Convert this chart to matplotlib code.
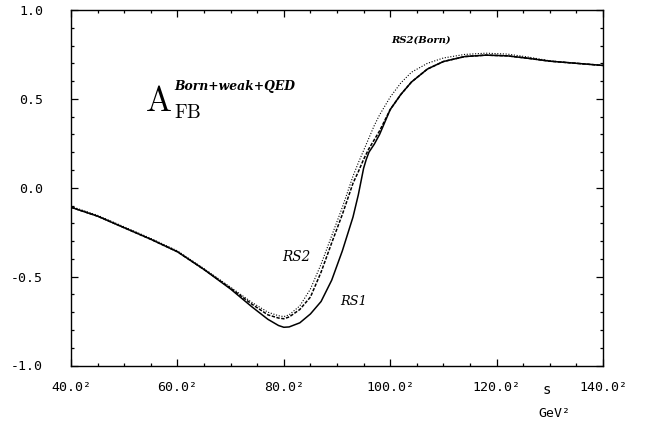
import numpy as np
import matplotlib
matplotlib.use("Agg")
import matplotlib.pyplot as plt
from matplotlib.ticker import MultipleLocator

plt.rcParams["mathtext.fontset"] = "cm"

# ---- donnees (energie en GeV, axe en s = E^2) ----
E_rs1 = [40, 45, 50, 55, 60, 65, 70, 74, 77, 79, 80, 81, 83, 85, 87, 89, 91, 93, 94,
         95, 95.5, 96, 97, 98, 99, 100, 102, 104, 107, 110, 114, 118, 122, 126, 130, 135, 140]
A_rs1 = [-0.11, -0.16, -0.225, -0.29, -0.36, -0.46, -0.57, -0.67, -0.74, -0.775, -0.785,
         -0.783, -0.76, -0.71, -0.64, -0.52, -0.355, -0.165, -0.04,
         0.11, 0.16, 0.20, 0.245, 0.30, 0.37, 0.44, 0.525, 0.595, 0.668, 0.71, 0.738,
         0.746, 0.742, 0.728, 0.712, 0.70, 0.688]

E_rs2 = [40, 45, 50, 55, 60, 65, 70, 74, 77, 79, 80, 81, 83, 85, 87, 89, 91, 93, 94,
         95, 96, 97, 98, 99, 100, 102, 104, 107, 110, 114, 118, 122, 126, 130, 135, 140]
A_rs2 = [-0.11, -0.16, -0.225, -0.29, -0.36, -0.46, -0.565, -0.655, -0.715, -0.733, -0.737,
         -0.727, -0.685, -0.615, -0.475, -0.31, -0.15, 0.025, 0.09,
         0.16, 0.22, 0.27, 0.32, 0.38, 0.44, 0.525, 0.595, 0.668, 0.71, 0.738,
         0.746, 0.742, 0.728, 0.712, 0.70, 0.688]

E_born = [40, 45, 50, 55, 60, 65, 70, 74, 77, 79, 80, 81, 83, 85, 87, 89, 91, 93, 94,
          95, 96, 97, 98, 100, 102, 104, 107, 110, 114, 118, 122, 126, 130, 135, 140]
A_born = [-0.105, -0.155, -0.22, -0.285, -0.355, -0.455, -0.56, -0.645, -0.70, -0.72, -0.725,
          -0.715, -0.665, -0.57, -0.43, -0.27, -0.11, 0.065, 0.14,
          0.21, 0.28, 0.35, 0.41, 0.51, 0.59, 0.65, 0.70, 0.73, 0.75,
          0.757, 0.752, 0.735, 0.714, 0.70, 0.688]

x_ticks = [40, 60, 80, 100, 120, 140]
x_labels = ["40.0²", "60.0²", "80.0²", "100.0²", "120.0²", "140.0²"]
y_ticks = [-1.0, -0.5, 0.0, 0.5, 1.0]
y_labels = ["-1.0", "-0.5", "0.0", "0.5", "1.0"]

fig = plt.figure(figsize=(6.48, 4.25), dpi=100)
ax = fig.add_axes([0.1096, 0.14, 0.821, 0.8365])

ax.plot(E_rs1, A_rs1, color="black", linewidth=1.1, linestyle="-")
ax.plot(E_rs2, A_rs2, color="black", linewidth=1.1, linestyle=(0, (2.2, 1.0)))
ax.plot(E_born, A_born, color="black", linewidth=0.8, linestyle=(0, (1.0, 1.5)))

ax.set_xlim(40, 140)
ax.set_ylim(-1.0, 1.0)

# graduations vers l'interieur sur les 4 cotes
ax.set_xticks(x_ticks)
ax.set_xticklabels(x_labels, family="DejaVu Sans Mono", fontsize=9.5)
ax.set_yticks(y_ticks)
ax.set_yticklabels(y_labels, family="DejaVu Sans Mono", fontsize=9.5)
ax.xaxis.set_minor_locator(MultipleLocator(5))
ax.yaxis.set_minor_locator(MultipleLocator(0.1))
ax.tick_params(which="both", direction="in", top=True, right=True, width=0.9)
ax.tick_params(which="major", length=5)
ax.tick_params(which="minor", length=2.5)
ax.tick_params(axis="x", which="major", pad=11)
ax.tick_params(axis="y", which="major", pad=20)
for sp in ax.spines.values():
    sp.set_linewidth(1.0)

# libelles
ax.text(0.895, -0.07, "s", transform=ax.transAxes, family="DejaVu Sans Mono",
        fontsize=10, ha="center", va="center")
ax.text(0.908, -0.134, "GeV²", transform=ax.transAxes, family="DejaVu Sans Mono",
        fontsize=9.5, ha="center", va="center")

ax.text(56.5, 0.49, r"$\mathrm{A}$", fontsize=25, ha="center", va="center")
ax.text(59.4, 0.425, r"$\mathrm{FB}$", fontsize=14, ha="left", va="center")
ax.text(59.4, 0.57, "Born+weak+QED", family="DejaVu Serif", style="italic",
        weight="bold", fontsize=8.9, ha="left", va="center")

ax.text(105.8, 0.83, "RS2(Born)", family="DejaVu Serif", style="italic",
        weight="bold", fontsize=7.2, ha="center", va="center")
ax.text(82.3, -0.39, "RS2", family="DejaVu Serif", style="italic",
        fontsize=9.8, ha="center", va="center")
ax.text(93.2, -0.64, "RS1", family="DejaVu Serif", style="italic",
        fontsize=9.3, ha="center", va="center")

fig.savefig("out.png", dpi=100)
